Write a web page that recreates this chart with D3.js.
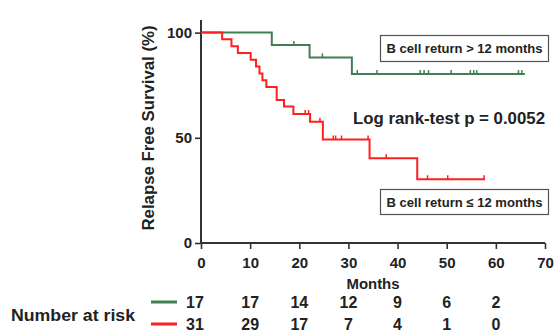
<!DOCTYPE html>
<html><head><meta charset="utf-8">
<script src="https://cdn.jsdelivr.net/npm/d3@7"></script>
<style>
html,body{margin:0;padding:0;background:#fff;}
svg{display:block;font-family:"Liberation Sans",Arial,sans-serif;}
</style></head>
<body><svg id="c" width="559" height="334"></svg>
<script>
// ---- data ----
const xTicks = [0, 10, 20, 30, 40, 50, 60, 70];
const yTicks = [0, 50, 100];
const greenTimes = [0, 14.4, 22.1, 30.7];
const greenSurv  = [100, 94.1, 88.2, 80.3];
const greenEnd = 65.9;
const greenCensor = [18.9, 24.7, 31.8, 35.8, 44.6, 45.4, 46.3, 50.9, 54.8, 55.5, 56.1, 64.6, 65.3];
const redTimes = [0, 4.3, 6.2, 7.5, 10.1, 11.2, 11.9, 12.5, 13.3, 15.4, 16.9, 18.8, 22.2, 24.8, 34.3, 44.0];
const redSurv  = [100, 96.8, 93.5, 90.3, 87.1, 83.9, 80.6, 77.4, 74.2, 68.0, 64.9, 61.3, 57.6, 49.2, 40.3, 30.3];
const redEnd = 57.8;
const redCensor = [16.9, 21.2, 21.9, 24.2, 26.9, 27.4, 28.6, 34.0, 37.7, 46.1, 50.2, 57.6];
const riskTimes = [0, 10, 20, 30, 40, 50, 60];
const riskGreen = [17, 17, 14, 12, 9, 6, 2];
const riskRed   = [31, 29, 17, 7, 4, 1, 0];
const greenLabel = "B cell return > 12 months";
const redLabel = "B cell return \u2264 12 months";
const pText = "Log rank-test p = 0.0052";

const GREEN = "#3f7f52", RED = "#ff1f1f", INK = "#222";
const svg = d3.select("#c");
const x = d3.scaleLinear().domain([0, 70]).range([201, 545]);
const y = d3.scaleLinear().domain([0, 106]).range([243, 20]);

// axes
const gx = svg.append("g").attr("transform", "translate(0,243)")
  .call(d3.axisBottom(x).tickValues(xTicks).tickSize(6).tickPadding(8));
const gy = svg.append("g").attr("transform", "translate(201,0)")
  .call(d3.axisLeft(y).tickValues(yTicks).tickSize(6).tickPadding(3));
[gx, gy].forEach(g => {
  g.select(".domain").attr("stroke", "#333").attr("stroke-width", 2);
  g.selectAll(".tick line").attr("stroke", "#333").attr("stroke-width", 1.6);
  g.selectAll(".tick text").attr("fill", INK).style("font-size", "15px")
    .style("font-weight", "bold").style("font-family", '"Liberation Sans",Arial,sans-serif');
});
gx.selectAll(".tick text").attr("dy", "0.71em").attr("y", 14);
gy.select(".domain").attr("d", `M0,${y(106)}V${y(0)}`);
gx.select(".domain").attr("d", `M${x(0)},0H${x(70)}`);

// titles
svg.append("text").attr("x", 373).attr("y", 289).attr("text-anchor", "middle")
  .attr("fill", INK).style("font-size", "15px").style("font-weight", "bold")
  .attr("textLength", 53).attr("lengthAdjust", "spacingAndGlyphs").text("Months");
svg.append("text").attr("transform", "translate(154,128) rotate(-90)").attr("text-anchor", "middle")
  .attr("fill", INK).style("font-size", "16.5px").style("font-weight", "bold")
  .attr("textLength", 205).attr("lengthAdjust", "spacingAndGlyphs").text("Relapse Free Survival (%)");

function stepData(times, surv, end) {
  const d = times.map((t, i) => [t, surv[i]]);
  d.push([end, surv[surv.length - 1]]);
  return d;
}
function survAt(times, surv, t) {
  let s = surv[0];
  for (let i = 0; i < times.length; i++) if (times[i] <= t) s = surv[i];
  return s;
}
const line = d3.line().x(d => x(d[0])).y(d => y(d[1])).curve(d3.curveStepAfter);

function drawCurve(times, surv, end, cens, color) {
  svg.append("path").datum(stepData(times, surv, end)).attr("d", line)
    .attr("fill", "none").attr("stroke", color).attr("stroke-width", 2);
  svg.append("g").selectAll("line").data(cens).join("line")
    .attr("x1", d => x(d)).attr("x2", d => x(d))
    .attr("y1", d => y(survAt(times, surv, d)))
    .attr("y2", d => y(survAt(times, surv, d)) - 4)
    .attr("stroke", color).attr("stroke-width", 1.5);
}
drawCurve(greenTimes, greenSurv, greenEnd, greenCensor, GREEN);
drawCurve(redTimes, redSurv, redEnd, redCensor, RED);

// legend boxes
function box(x0, y0, w, h, label, base) {
  svg.append("rect").attr("x", x0).attr("y", y0).attr("width", w).attr("height", h)
    .attr("fill", "#fff").attr("stroke", "#555").attr("stroke-width", 1.2);
  svg.append("text").attr("x", x0 + w / 2).attr("y", base).attr("text-anchor", "middle")
    .attr("fill", INK).style("font-size", "13px").style("font-weight", "bold")
    .attr("textLength", 156).attr("lengthAdjust", "spacingAndGlyphs").text(label);
}
box(380.5, 35.5, 168, 26, greenLabel, 53);
box(380.5, 189.5, 168, 25, redLabel, 206.5);

svg.append("text").attr("x", 449).attr("y", 123.5).attr("text-anchor", "middle")
  .attr("fill", INK).style("font-size", "17px").style("font-weight", "bold")
  .attr("textLength", 192).attr("lengthAdjust", "spacingAndGlyphs").text(pText);

// number at risk
svg.append("text").attr("x", 73).attr("y", 321).attr("text-anchor", "middle")
  .attr("fill", INK).style("font-size", "16px").style("font-weight", "bold")
  .attr("textLength", 124).attr("lengthAdjust", "spacingAndGlyphs").text("Number at risk");
svg.append("line").attr("x1", 151).attr("x2", 177).attr("y1", 302).attr("y2", 302)
  .attr("stroke", GREEN).attr("stroke-width", 3);
svg.append("line").attr("x1", 151).attr("x2", 177).attr("y1", 324).attr("y2", 324)
  .attr("stroke", RED).attr("stroke-width", 3);
svg.append("g").selectAll("text").data(riskGreen).join("text")
  .attr("x", (d, i) => x(riskTimes[i]) - (i === 0 ? 6 : 0)).attr("y", 308).attr("text-anchor", "middle")
  .attr("fill", INK).style("font-size", "16px").style("font-weight", "bold").text(d => d);
svg.append("g").selectAll("text").data(riskRed).join("text")
  .attr("x", (d, i) => x(riskTimes[i]) - (i === 0 ? 6 : 0)).attr("y", 330).attr("text-anchor", "middle")
  .attr("fill", INK).style("font-size", "16px").style("font-weight", "bold").text(d => d);
</script></body></html>
